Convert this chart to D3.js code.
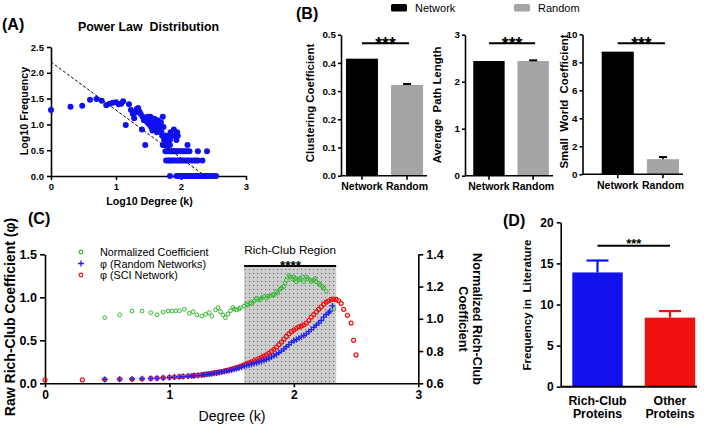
<!DOCTYPE html>
<html>
<head>
<meta charset="utf-8">
<script src="https://cdn.jsdelivr.net/npm/d3@7"></script>
<style>
body { margin: 0; background: #fff; }
svg { font-family: "Liberation Sans", Arial, sans-serif; }
text { white-space: pre; }
.axis path, .axis line { stroke: #000; stroke-width: 1.6px; }
.axis text { font-weight: bold; fill: #000; }
</style>
</head>
<body>
<svg id="fig" width="709" height="426"></svg>
<script>
// ---- (A) power law: [log10 degree, log10 frequency]
var powerLaw = [
  [0,1.28],[0.30,1.34],[0.48,1.36],[0.60,1.48],[0.70,1.49],[0.78,1.46],[0.85,1.37],[0.90,1.40],
  [0.95,1.42],[1.00,1.43],[1.04,1.39],[1.08,1.40],[1.11,1.45],[1.15,0.99],[1.20,1.39],[1.23,1.28],
  [1.26,1.20],[1.28,1.12],[1.30,1.23],[1.32,1.30],[1.34,1.32],[1.36,1.25],[1.38,1.20],[1.40,0.90],
  [1.41,1.15],[1.43,1.08],[1.45,0.60],[1.46,1.13],[1.48,1.04],[1.49,1.15],[1.51,1.00],[1.52,1.10],
  [1.53,1.15],[1.54,0.95],[1.55,1.05],[1.56,0.88],[1.57,1.08],[1.58,0.98],[1.59,1.11],[1.60,0.95],
  [1.61,1.04],[1.62,1.00],[1.63,0.85],[1.64,1.08],[1.65,0.90],[1.66,1.00],[1.68,0.95],[1.69,1.04],
  [1.70,0.85],[1.71,0.78],[1.72,1.15],[1.73,0.95],[1.74,0.70],[1.76,0.78],[1.78,0.70],[1.79,0.78],
  [1.83,0.70],[1.84,0.85],[1.87,0.78],[1.89,0.90],[1.91,0.78],[1.93,0.70],[1.94,0.85],[1.95,0.78],
  // 0.6 row
  [1.72,0.60],[1.75,0.60],[1.78,0.60],[1.80,0.60],[1.83,0.60],[2.10,0.60],
  // 0.48 row
  [1.76,0.48],[1.79,0.48],[1.81,0.48],[1.84,0.48],[1.86,0.48],[1.88,0.48],[1.90,0.48],[1.93,0.48],
  [1.95,0.48],[1.97,0.48],[2.00,0.48],[2.03,0.48],[2.06,0.48],[2.09,0.48],[2.13,0.48],[2.26,0.48],[2.40,0.48],
  // 0.3 row
  [1.77,0.30],[1.80,0.30],[1.82,0.30],[1.85,0.30],[1.88,0.30],[1.91,0.30],[1.94,0.30],[1.97,0.30],
  [2.00,0.30],[2.03,0.30],[2.06,0.30],[2.09,0.30],[2.12,0.30],[2.16,0.30],[2.20,0.30],[2.23,0.30],[2.26,0.30],[2.33,0.30],
  // 0 row
  [1.83,0],[1.93,0],[1.96,0],[1.99,0],[2.02,0],[2.05,0],[2.08,0],[2.11,0],[2.14,0],[2.17,0],[2.20,0],
  [2.23,0],[2.26,0],[2.29,0],[2.32,0],[2.35,0],[2.38,0],[2.41,0],[2.44,0],[2.47,0],[2.50,0],[2.54,0]
];
var powerFit = [[0, 2.21], [2.37, 0]];

// ---- (B) network vs random
var bCategories = ["Network", "Random"];
var clustering = [0.415, 0.322], clusteringErr = [0, 0.003];
var pathLength = [2.44, 2.44], pathLengthErr = [0, 0.015];
var smallWorld = [8.76, 1.08], smallWorldErr = [0, 0.15];

// ---- (C) rich-club: [log10 degree, value]
var phiSci = [
  [0,0.04],[0.30,0.04],[0.48,0.045],[0.60,0.048],[0.70,0.05],[0.78,0.053],[0.85,0.057],[0.90,0.06],
  [0.95,0.064],[1.00,0.069],[1.04,0.073],[1.08,0.077],[1.11,0.08],[1.15,0.084],[1.18,0.088],[1.20,0.091],
  [1.23,0.095],[1.26,0.099],[1.28,0.103],[1.30,0.107],[1.32,0.111],[1.34,0.116],[1.36,0.121],[1.38,0.126],
  [1.40,0.131],[1.42,0.137],[1.44,0.143],[1.46,0.15],[1.48,0.157],[1.50,0.165],[1.52,0.173],[1.54,0.182],
  [1.56,0.192],[1.58,0.203],[1.60,0.215],[1.62,0.226],[1.64,0.238],[1.66,0.25],[1.68,0.262],[1.70,0.275],
  [1.72,0.288],[1.74,0.302],[1.76,0.316],[1.78,0.332],[1.80,0.35],[1.82,0.37],[1.84,0.395],[1.86,0.42],
  [1.88,0.45],[1.90,0.48],[1.92,0.515],[1.94,0.545],[1.96,0.575],[1.98,0.60],[2.00,0.62],[2.02,0.64],
  [2.04,0.655],[2.06,0.665],[2.08,0.68],[2.10,0.70],[2.12,0.73],[2.14,0.77],[2.16,0.80],[2.18,0.83],
  [2.20,0.86],[2.22,0.89],[2.24,0.92],[2.26,0.945],[2.28,0.96],[2.30,0.975],[2.32,0.98],[2.34,0.975],
  [2.36,0.96],[2.38,0.93],[2.40,0.86],[2.43,0.79],[2.46,0.70],[2.48,0.50],[2.50,0.33]
];
var phiRandom = [
  [0.48,0.045],[0.60,0.048],[0.70,0.05],[0.78,0.053],[0.85,0.057],[0.90,0.06],[0.95,0.064],[1.00,0.068],
  [1.04,0.072],[1.08,0.075],[1.11,0.078],[1.15,0.082],[1.18,0.086],[1.20,0.089],[1.23,0.092],[1.26,0.096],
  [1.28,0.10],[1.30,0.104],[1.32,0.108],[1.34,0.112],[1.36,0.117],[1.38,0.121],[1.40,0.126],[1.42,0.131],
  [1.44,0.137],[1.46,0.143],[1.48,0.149],[1.50,0.155],[1.52,0.162],[1.54,0.17],[1.56,0.178],[1.58,0.188],
  [1.60,0.198],[1.62,0.206],[1.64,0.214],[1.66,0.222],[1.68,0.23],[1.70,0.238],[1.72,0.247],[1.74,0.256],
  [1.76,0.266],[1.78,0.277],[1.80,0.29],[1.82,0.305],[1.84,0.32],[1.86,0.338],[1.88,0.357],[1.90,0.378],
  [1.92,0.40],[1.94,0.425],[1.96,0.45],[1.98,0.475],[2.00,0.495],[2.02,0.51],[2.04,0.525],[2.06,0.54],
  [2.08,0.555],[2.10,0.575],[2.12,0.60],[2.14,0.625],[2.16,0.65],[2.18,0.675],[2.20,0.70],[2.22,0.73],
  [2.24,0.77],[2.26,0.80],[2.28,0.82],[2.29,0.84],[2.31,0.90]
];
var normCoef = [
  [0.48,1.007],[0.60,1.025],[0.70,1.048],[0.78,1.048],[0.85,1.038],[0.90,1.025],[0.95,1.042],[0.99,1.048],
  [1.02,1.048],[1.05,1.05],[1.08,1.05],[1.12,1.059],[1.16,1.034],[1.19,1.044],[1.22,1.024],[1.26,1.017],
  [1.29,1.028],[1.32,1.038],[1.34,1.017],[1.37,1.055],[1.39,1.069],[1.41,1.044],[1.43,1.024],[1.45,1.007],
  [1.47,1.03],[1.49,1.05],[1.51,1.07],[1.52,1.06],[1.54,1.055],[1.56,1.06],[1.57,1.069],[1.60,1.079],
  [1.62,1.09],[1.63,1.085],[1.65,1.10],[1.66,1.095],[1.68,1.11],[1.70,1.127],[1.71,1.12],[1.73,1.117],
  [1.74,1.13],[1.76,1.138],[1.78,1.127],[1.79,1.14],[1.81,1.142],[1.83,1.15],[1.84,1.148],[1.86,1.17],
  [1.87,1.16],[1.89,1.184],[1.90,1.19],[1.92,1.20],[1.93,1.22],[1.94,1.24],[1.96,1.27],[1.97,1.26],
  [1.99,1.245],[2.00,1.26],[2.01,1.25],[2.02,1.23],[2.04,1.24],[2.05,1.25],[2.07,1.26],[2.08,1.23],
  [2.10,1.26],[2.11,1.25],[2.13,1.24],[2.14,1.23],[2.16,1.24],[2.17,1.25],[2.18,1.23],[2.20,1.22],
  [2.21,1.21],[2.23,1.20],[2.24,1.19],[2.26,1.17],[2.32,1.06]
];
var richClubRegion = [1.6, 2.34];
var richClubTop = 1.365;

// ---- (D) literature frequency
var dCategories = ["Rich-Club Proteins", "Other Proteins"];
var litFreq = [13.9, 8.4], litFreqErr = [1.45, 0.8];

var svg = d3.select("#fig");

function label(txt, x, y, size, weight, anchor, rot) {
  var t = svg.append("text").attr("font-size", size).attr("font-weight", weight || "bold")
    .attr("text-anchor", anchor || "middle").attr("fill", "#000").text(txt);
  if (rot) t.attr("transform", "translate(" + x + "," + y + ") rotate(" + rot + ")");
  else t.attr("x", x).attr("y", y);
  return t;
}

// ================= (A)
var xA = d3.scaleLinear().domain([0, 3]).range([51, 246]);
var yA = d3.scaleLinear().domain([0, 2.5]).range([176, 47]);

svg.append("g").attr("class", "axis").attr("transform", "translate(0,176)")
  .call(d3.axisBottom(xA).tickValues([0, 1, 2, 3]).tickFormat(d3.format("d")).tickSize(4).tickSizeOuter(0))
  .selectAll("text").attr("font-size", 9.5);
svg.append("g").attr("class", "axis").attr("transform", "translate(51,0)")
  .call(d3.axisLeft(yA).tickValues([0, 0.5, 1, 1.5, 2, 2.5]).tickFormat(d3.format(".1f")).tickSize(4).tickSizeOuter(0))
  .selectAll("text").attr("font-size", 9.5);

svg.selectAll(".pl").data(powerLaw).enter().append("circle")
  .attr("cx", function(d) { return xA(d[0]); })
  .attr("cy", function(d) { return yA(d[1]); })
  .attr("r", 3).attr("fill", "#1010f0");

svg.append("path").datum(powerFit)
  .attr("d", d3.line().x(function(d) { return xA(d[0]); }).y(function(d) { return yA(d[1]); }))
  .attr("stroke", "#000").attr("stroke-width", 1).attr("stroke-dasharray", "3,2").attr("fill", "none");

label("(A)", 2, 30, 16, "bold", "start");
label("Power Law  Distribution", 148.5, 31, 12.4, "bold");
label("Log10 Degree (k)", 149.5, 205, 10.7, "bold");
label("Log10 Frequency", 27.5, 111, 10.7, "bold", "middle", -90);

// ================= (B)
function barPanel(o) {
  var x = d3.scaleBand().domain(bCategories).range(o.band).paddingInner(0.29).paddingOuter(0.11);
  var y = d3.scaleLinear().domain(o.domain).range([o.bottom, o.top]);
  var bw = x.bandwidth();

  svg.selectAll(null).data(o.values).enter().append("rect")
    .attr("x", function(d, i) { return x(bCategories[i]); })
    .attr("y", function(d) { return y(d); })
    .attr("width", bw)
    .attr("height", function(d) { return o.bottom - y(d); })
    .attr("fill", function(d, i) { return i == 0 ? "#000" : "#a5a5a5"; });

  // error bars
  o.values.forEach(function(v, i) {
    if (!o.errs[i]) return;
    var cx = x(bCategories[i]) + bw / 2;
    svg.append("line").attr("x1", cx).attr("x2", cx).attr("y1", y(v)).attr("y2", y(v + o.errs[i]))
      .attr("stroke", "#000").attr("stroke-width", 1.5);
    svg.append("line").attr("x1", cx - 4).attr("x2", cx + 4).attr("y1", y(v + o.errs[i])).attr("y2", y(v + o.errs[i]))
      .attr("stroke", "#000").attr("stroke-width", 2);
  });

  var yg = svg.append("g").attr("class", "axis").attr("transform", "translate(" + o.axisX + ",0)")
    .call(d3.axisLeft(y).tickValues(o.ticks).tickFormat(d3.format(o.fmt)).tickSize(3).tickPadding(2).tickSizeOuter(0));
  yg.selectAll("text").attr("font-size", 9.8);

  var xg = svg.append("g").attr("class", "axis").attr("transform", "translate(0," + o.bottom + ")")
    .call(d3.axisBottom(x).tickSize(4).tickSizeOuter(0));
  xg.select(".domain").remove();
  xg.selectAll("text").attr("font-size", 10.5);
  svg.append("line").attr("x1", o.axisX).attr("x2", o.axisEnd).attr("y1", o.bottom).attr("y2", o.bottom)
    .attr("stroke", "#000").attr("stroke-width", 1.6);

  // significance
  var c0 = x(bCategories[0]) + bw / 2, c1 = x(bCategories[1]) + bw / 2;
  svg.append("line").attr("x1", c0).attr("x2", c1 + 2).attr("y1", 43.3).attr("y2", 43.3)
    .attr("stroke", "#000").attr("stroke-width", 2);
  label("***", (c0 + c1) / 2 + 1, 49.5, 17.5, "bold");

  label(o.title, o.titleX, o.titleY, 11.4, "bold", "middle", -90);
}

barPanel({ values: clustering, errs: clusteringErr, domain: [0, 0.5], ticks: [0, 0.1, 0.2, 0.3, 0.4, 0.5], fmt: ".1f",
  band: [341, 428], axisX: 341, axisEnd: 427, bottom: 175.7, top: 34.7,
  title: "Clustering Coefficient", titleX: 314, titleY: 103 });
barPanel({ values: pathLength, errs: pathLengthErr, domain: [0, 3], ticks: [0, 1, 2, 3], fmt: "d",
  band: [468.4, 553.7], axisX: 465, axisEnd: 553, bottom: 175.7, top: 34.7,
  title: "Average  Path Length", titleX: 440.5, titleY: 105 });
barPanel({ values: smallWorld, errs: smallWorldErr, domain: [0, 10], ticks: [0, 2, 4, 6, 8, 10], fmt: "d",
  band: [596.7, 684], axisX: 582.5, axisEnd: 683, bottom: 174.3, top: 34.3,
  title: "Small  World  Coefficient", titleX: 568, titleY: 101.5 });

label("(B)", 296, 19, 16, "bold", "start");

// legend
var legB = [{ name: "Network", color: "#000", x: 391 }, { name: "Random", color: "#a5a5a5", x: 514 }];
legB.forEach(function(l) {
  svg.append("rect").attr("x", l.x).attr("y", 4).attr("width", 16).attr("height", 7.5).attr("rx", 1.5).attr("fill", l.color);
  label(l.name, l.x + 24, 12, 11, "normal", "start");
});

// ================= (C)
var xC = d3.scaleLinear().domain([0, 3]).range([45, 418.3]);
var yC = d3.scaleLinear().domain([0, 1.5]).range([383.3, 254.3]);
var yR = d3.scaleLinear().domain([0.6, 1.4]).range([383.3, 254.3]);

// dotted shaded region
var defs = svg.append("defs");
var pat = defs.append("pattern").attr("id", "dots").attr("patternUnits", "userSpaceOnUse").attr("width", 4).attr("height", 4);
pat.append("rect").attr("width", 4).attr("height", 4).attr("fill", "#cdcdcd");
pat.append("rect").attr("x", 1).attr("y", 1).attr("width", 1).attr("height", 1).attr("fill", "#666");

svg.append("rect")
  .attr("x", xC(richClubRegion[0])).attr("width", xC(richClubRegion[1]) - xC(richClubRegion[0]))
  .attr("y", yC(richClubTop)).attr("height", yC(0) - yC(richClubTop))
  .attr("fill", "url(#dots)");
svg.append("line").attr("x1", xC(richClubRegion[0])).attr("x2", xC(richClubRegion[1]))
  .attr("y1", yC(richClubTop)).attr("y2", yC(richClubTop)).attr("stroke", "#000").attr("stroke-width", 2);
label("Rich-Club Region", (xC(richClubRegion[0]) + xC(richClubRegion[1])) / 2, 254, 11.7, "normal");
label("****", 290.5, 269.5, 13.5, "bold");

// axes
svg.append("g").attr("class", "axis").attr("transform", "translate(0,383.3)")
  .call(d3.axisBottom(xC).tickValues([0, 1, 2, 3]).tickFormat(d3.format("d")).tickSize(4).tickSizeOuter(0))
  .call(function(g) { g.selectAll("path,line").attr("stroke-width", 2); })
  .selectAll("text").attr("font-size", 12);
svg.append("g").attr("class", "axis").attr("transform", "translate(45,0)")
  .call(d3.axisLeft(yC).tickValues([0, 0.5, 1, 1.5]).tickFormat(d3.format(".1f")).tickSize(5).tickSizeOuter(0))
  .call(function(g) { g.selectAll("path,line").attr("stroke-width", 2); })
  .selectAll("text").attr("font-size", 12.5);
svg.append("g").attr("class", "axis").attr("transform", "translate(418.3,0)")
  .call(d3.axisRight(yR).tickValues([0.6, 0.8, 1.0, 1.2, 1.4]).tickFormat(d3.format(".1f")).tickSize(5).tickSizeOuter(0))
  .call(function(g) { g.selectAll("path,line").attr("stroke-width", 2); })
  .selectAll("text").attr("font-size", 12.5);

// series
svg.selectAll(".gn").data(normCoef).enter().append("circle")
  .attr("cx", function(d) { return xC(d[0]); }).attr("cy", function(d) { return yR(d[1]); })
  .attr("r", 1.9).attr("fill", "none").attr("stroke", "#2fb82f").attr("stroke-width", 1);
svg.selectAll(".rd").data(phiSci).enter().append("circle")
  .attr("cx", function(d) { return xC(d[0]); }).attr("cy", function(d) { return yC(d[1]); })
  .attr("r", 2).attr("fill", "none").attr("stroke", "#f01010").attr("stroke-width", 1.2);
svg.selectAll(".bl").data(phiRandom).enter().append("path")
  .attr("transform", function(d) { return "translate(" + xC(d[0]) + "," + yC(d[1]) + ")"; })
  .attr("d", "M-3,0H3M0,-3V3").attr("stroke", "#2020f0").attr("stroke-width", 1.3);

// legend
var legC = [
  { name: "Normalized Coefficient", y: 252, color: "#2fb82f", sym: "o" },
  { name: "\u03c6 (Random Networks)", y: 263.5, color: "#2020f0", sym: "+" },
  { name: "\u03c6 (SCI Network)", y: 275, color: "#f01010", sym: "o" }
];
legC.forEach(function(l) {
  if (l.sym == "o") svg.append("circle").attr("cx", 81).attr("cy", l.y).attr("r", 1.9)
    .attr("fill", "none").attr("stroke", l.color).attr("stroke-width", 1.1);
  else svg.append("path").attr("transform", "translate(81," + l.y + ")").attr("d", "M-3,0H3M0,-3V3")
    .attr("stroke", l.color).attr("stroke-width", 1.3);
  label(l.name, 100, l.y + 4, 10.8, "normal", "start");
});

label("(C)", 28, 224, 16, "bold", "start");
label("Degree (k)", 232, 421, 14.2, "normal");
label("Raw Rich-Club Coefficient (\u03c6)", 14.5, 317, 14, "bold", "middle", -90);
var rl = svg.append("text").attr("font-size", 12.7).attr("font-weight", "bold").attr("text-anchor", "middle")
  .attr("transform", "translate(472.5,319) rotate(90)");
rl.append("tspan").attr("x", 0).attr("dy", 0).text("Normalized Rich-Club");
rl.append("tspan").attr("x", 0).attr("dy", 14).text("Coefficient");

// ================= (D)
var xD = d3.scaleBand().domain(dCategories).range([560.7, 706.8]).paddingInner(0.305).paddingOuter(0.16);
var yD = d3.scaleLinear().domain([0, 20]).range([386.7, 222.3]);
var dColors = ["#1212ee", "#f01010"];
var bwD = xD.bandwidth();

svg.selectAll(".dbar").data(litFreq).enter().append("rect")
  .attr("x", function(d, i) { return xD(dCategories[i]); })
  .attr("y", function(d) { return yD(d); })
  .attr("width", bwD).attr("height", function(d) { return yD(0) - yD(d); })
  .attr("fill", function(d, i) { return dColors[i]; });
litFreq.forEach(function(v, i) {
  var cx = xD(dCategories[i]) + bwD / 2, top = yD(v + litFreqErr[i]);
  svg.append("line").attr("x1", cx).attr("x2", cx).attr("y1", yD(v)).attr("y2", top)
    .attr("stroke", dColors[i]).attr("stroke-width", 2.2);
  svg.append("line").attr("x1", cx - 11).attr("x2", cx + 11).attr("y1", top).attr("y2", top)
    .attr("stroke", dColors[i]).attr("stroke-width", 2.2);
});

svg.append("g").attr("class", "axis").attr("transform", "translate(560.7,0)")
  .call(d3.axisLeft(yD).tickValues([0, 5, 10, 15, 20]).tickFormat(d3.format("d")).tickSize(4).tickSizeOuter(0))
  .call(function(g) { g.selectAll("path,line").attr("stroke-width", 2); })
  .selectAll("text").attr("font-size", 12);
var xgD = svg.append("g").attr("class", "axis").attr("transform", "translate(0,386.7)")
  .call(d3.axisBottom(xD).tickSize(0).tickFormat(""));
xgD.select(".domain").remove();
svg.append("line").attr("x1", 560.7).attr("x2", 697).attr("y1", 386.7).attr("y2", 386.7)
  .attr("stroke", "#000").attr("stroke-width", 2);
dCategories.forEach(function(c) {
  var parts = c.split(" ");
  var t = svg.append("text").attr("font-size", 12.3).attr("font-weight", "bold").attr("text-anchor", "middle")
    .attr("x", xD(c) + bwD / 2).attr("y", 405);
  t.append("tspan").attr("x", xD(c) + bwD / 2).text(parts[0]);
  t.append("tspan").attr("x", xD(c) + bwD / 2).attr("dy", 13).text(parts[1]);
});

var d0 = xD(dCategories[0]) + bwD / 2, d1 = xD(dCategories[1]) + bwD / 2;
svg.append("line").attr("x1", d0).attr("x2", d1).attr("y1", 245.7).attr("y2", 245.7)
  .attr("stroke", "#000").attr("stroke-width", 2);
label("***", (d0 + d1) / 2, 248, 13, "bold");

label("(D)", 503, 226, 16, "bold", "start");
label("Frequency in  Literature", 531, 305, 11.5, "bold", "middle", -90);
</script>
</body>
</html>
